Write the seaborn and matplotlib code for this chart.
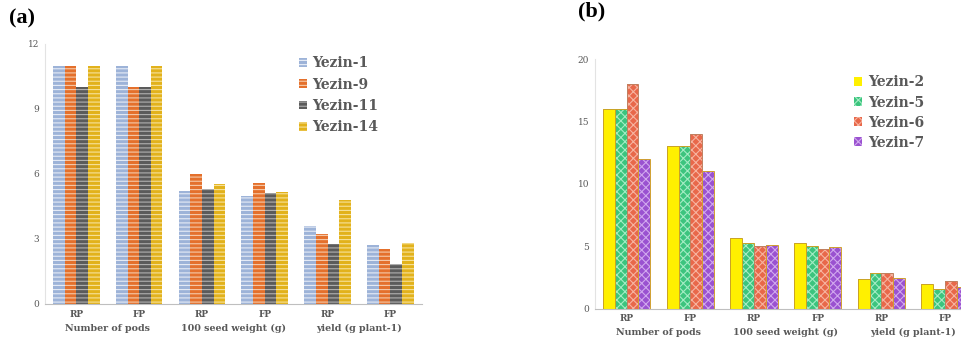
import matplotlib.pyplot as plt
import matplotlib.transforms as mtransforms
from matplotlib.patches import Patch
import pandas as pd
import seaborn as sns

# x categories (trait, treatment)
traits = ["Number of pods", "100 seed weight (g)", "yield (g plant-1)"]
treatments = ["RP", "FP"]

# panel (a)
varieties_a = ["Yezin-1", "Yezin-9", "Yezin-11", "Yezin-14"]
yezin_1 = [11, 11, 5.23, 5.0, 3.58, 2.71]
yezin_9 = [11, 10, 6.01, 5.6, 3.25, 2.54]
yezin_11 = [10, 10, 5.29, 5.1, 2.78, 1.86]
yezin_14 = [11, 11, 5.52, 5.15, 4.78, 2.81]

# panel (b)
varieties_b = ["Yezin-2", "Yezin-5", "Yezin-6", "Yezin-7"]
yezin_2 = [16, 13, 5.66, 5.24, 2.4, 2.0]
yezin_5 = [16, 13, 5.29, 5.0, 2.88, 1.55]
yezin_6 = [18, 14, 5.02, 4.78, 2.83, 2.24]
yezin_7 = [12, 11, 5.1, 4.97, 2.5, 1.71]

colors_a = ["#9db3d8", "#e4702c", "#5b5b5b", "#e2b21c"]
hatch_a = ["#e6ecf6", "#f6c9a8", "#b0b0b0", "#f7e29a"]
colors_b = ["#fff000", "#3cc47e", "#e8684a", "#9a52d0"]
hatch_b = ["#fff000", "#a4ecc4", "#f6b4a0", "#d1a8ee"]
edges_b = ["#c9a227", "#c9a227", "#c08060", "#d0a030"]

text_gray = "#595959"
serif = "DejaVu Serif"
label_serif = "Liberation Serif"


def make_df(varieties, series):
    keys = [t + " " + tr for t in traits for tr in treatments]
    rows = []
    for name, vals in zip(varieties, series):
        for k, v in zip(keys, vals):
            rows.append({"cat": k, "variety": name, "value": v})
    return pd.DataFrame(rows), keys


def draw_panel(ax, df, keys, varieties, colors, hatch_colors, hatch, yticks, edges=None):
    sns.barplot(data=df, x="cat", y="value", hue="variety", order=keys,
                hue_order=varieties, palette=colors, width=0.74, gap=0,
                saturation=1, errorbar=None, legend=False, ax=ax)
    for i, cont in enumerate(ax.containers):
        for p in cont.patches:
            p.set_hatch(hatch)
            p.set_edgecolor(hatch_colors[i])
            p.set_linewidth(0)
            if edges is not None:
                ax.add_patch(plt.Rectangle(p.get_xy(), p.get_width(), p.get_height(),
                                           fill=False, edgecolor=edges[i], linewidth=0.7))
    ax.set_ylim(yticks[0], yticks[-1])
    ax.set_yticks(yticks)
    ax.set_xlim(-0.5, len(keys) - 0.5)
    ax.set_xticks(range(len(keys)))
    ax.set_xticklabels(treatments * len(traits), fontfamily=serif, fontweight="bold",
                       fontsize=6.5, color=text_gray)
    for lab in ax.get_yticklabels():
        lab.set_fontfamily(serif)
        lab.set_fontsize(6.5)
        lab.set_color(text_gray)
    ax.tick_params(axis="both", length=0, pad=4)
    ax.set_xlabel("")
    ax.set_ylabel("")
    for s in ["top", "right"]:
        ax.spines[s].set_visible(False)
    ax.spines["left"].set_color("#e3e3e3")
    ax.spines["bottom"].set_color("#bfbfbf")
    ax.grid(False)
    trans = mtransforms.blended_transform_factory(ax.transData, ax.transAxes)
    for i, t in enumerate(traits):
        ax.annotate(t, xy=(2 * i + 0.5, 0), xycoords=trans, xytext=(0, -17.3),
                    textcoords="offset points", ha="center", va="center",
                    fontfamily=serif, fontweight="bold", fontsize=6.8, color=text_gray)
    handles = [Patch(facecolor=colors[i], edgecolor=hatch_colors[i], linewidth=0,
                     hatch=hatch, label=v) for i, v in enumerate(varieties)]
    return handles


sns.set_style("white")
plt.rcParams["hatch.linewidth"] = 0.8

fig = plt.figure(figsize=(9.61, 3.40), dpi=100)
ax_a = fig.add_axes([0.0468, 0.1059, 0.392, 0.7647])
ax_b = fig.add_axes([0.619, 0.092, 0.3975, 0.7344])

df_a, keys = make_df(varieties_a, [yezin_1, yezin_9, yezin_11, yezin_14])
handles_a = draw_panel(ax_a, df_a, keys, varieties_a, colors_a, hatch_a, "----",
                       [0, 3, 6, 9, 12])

df_b, keys = make_df(varieties_b, [yezin_2, yezin_5, yezin_6, yezin_7])
handles_b = draw_panel(ax_b, df_b, keys, varieties_b, colors_b, hatch_b, "xxxx",
                       [0, 5, 10, 15, 20], edges=edges_b)

leg_a = ax_a.legend(handles=handles_a, loc="upper left", bbox_to_anchor=(0.655, 0.98),
                    frameon=False, handlelength=0.6, handleheight=0.6, handletextpad=0.4,
                    labelspacing=0.53, borderpad=0,
                    prop={"family": serif, "weight": "bold", "size": 10})
for t in leg_a.get_texts():
    t.set_color(text_gray)

leg_b = ax_b.legend(handles=handles_b, loc="upper left", bbox_to_anchor=(0.66, 0.962),
                    frameon=False, handlelength=0.6, handleheight=0.6, handletextpad=0.4,
                    labelspacing=0.44, borderpad=0,
                    prop={"family": serif, "weight": "bold", "size": 10})
for t in leg_b.get_texts():
    t.set_color(text_gray)

fig.text(0.009, 0.975, "(a)", ha="left", va="top", fontfamily=label_serif,
         fontweight="bold", fontsize=16, color="black")
fig.text(0.601, 0.995, "(b)", ha="left", va="top", fontfamily=label_serif,
         fontweight="bold", fontsize=16, color="black")

fig.savefig("out.png", dpi=100)
